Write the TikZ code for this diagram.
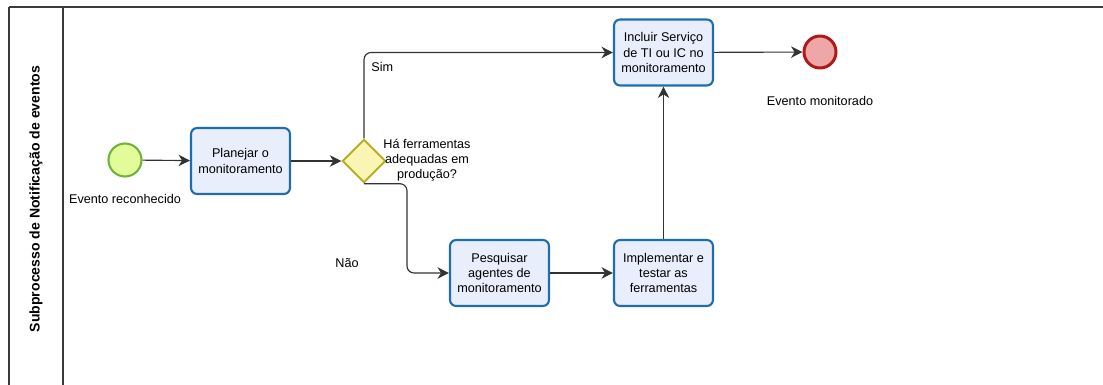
\documentclass[tikz,border=0pt]{standalone}
\usepackage{fontspec}
\setmainfont{Liberation Sans}
\usetikzlibrary{arrows.meta,shapes.geometric}
\definecolor{taskfill}{HTML}{E8EEFB}
\definecolor{taskline}{HTML}{1E6DAE}
\definecolor{startfill}{HTML}{E4FB9A}
\definecolor{startline}{HTML}{6CB43A}
\definecolor{endfill}{HTML}{EFA6A6}
\definecolor{endline}{HTML}{AD1A1A}
\definecolor{gwfill}{HTML}{FBF5B4}
\definecolor{gwline}{HTML}{B3AE28}
\definecolor{poolline}{HTML}{3A3A3A}
\tikzset{
  task/.style={draw=taskline, fill=taskfill, line width=1.2pt, rounded corners=3.5pt,
    minimum width=1.98cm, minimum height=1.32cm, align=center, inner sep=1pt,
    font=\fontsize{7.2}{8.6}\selectfont},
  startev/.style={circle, draw=startline, fill=startfill, line width=1.2pt, minimum size=0.66cm, inner sep=0pt},
  endev/.style={circle, draw=endline, fill=endfill, line width=1.7pt, minimum size=0.64cm, inner sep=0pt},
  gateway/.style={diamond, draw=gwline, fill=gwfill, line width=1.1pt, minimum size=0.87cm, inner sep=0pt},
  lbl/.style={font=\fontsize{7.2}{8.6}\selectfont, align=center, inner sep=0pt},
  flow/.style={draw=black!80, line width=0.65pt, -{Stealth[length=6.5pt,width=6.5pt,inset=2pt]}, rounded corners=4pt},
}
\begin{document}
\begin{tikzpicture}[x=0.02cm, y=-0.02cm]
\useasboundingbox (0,0) rectangle (1103,385);
% pool and lane header
\draw[poolline, line width=1.3pt] (9,7) -- (1103,7);
\draw[poolline, line width=1pt] (9,7) -- (9,385);
\draw[poolline, line width=1pt] (63,7) -- (63,385);
\node[rotate=90, font=\bfseries\fontsize{8}{9}\selectfont] (lane) at (36,199) {Subprocesso de Notificação de eventos};

% events, tasks and gateway
\node[startev] (start) at (125,160) {};
\node[lbl] (startlbl) at (125,199) {Evento reconhecido};
\node[task] (plan) at (240.5,161) {Planejar o\\monitoramento};
\node[gateway] (gw) at (364,161) {};
\node[lbl] (gwlbl) at (427,160) {Há ferramentas\\adequadas em\\produção?};
\node[task] (incl) at (663.5,52.5) {Incluir Serviço\\de TI ou IC no\\monitoramento};
\node[endev] (end) at (820,52) {};
\node[lbl] (endlbl) at (820,101) {Evento monitorado};
\node[task] (pesq) at (499.5,273) {Pesquisar\\agentes de\\monitoramento};
\node[task] (impl) at (663.5,273) {Implementar e\\testar as\\ferramentas};

% sequence flows
\draw[flow] (start) -- (plan);
\draw[flow] (plan) -- (gw);
\draw[flow] (gw.north) |- (incl.west);
\node[lbl, anchor=west] (sim) at (371,67) {Sim};
\draw[flow] (gw.south) -| (407,230) |- (pesq.west);
\node[lbl] (nao) at (347,263) {Não};
\draw[flow] (pesq) -- (impl);
\draw[flow] (impl) -- (incl);
\draw[flow] (incl) -- (end);
\end{tikzpicture}
\end{document}
